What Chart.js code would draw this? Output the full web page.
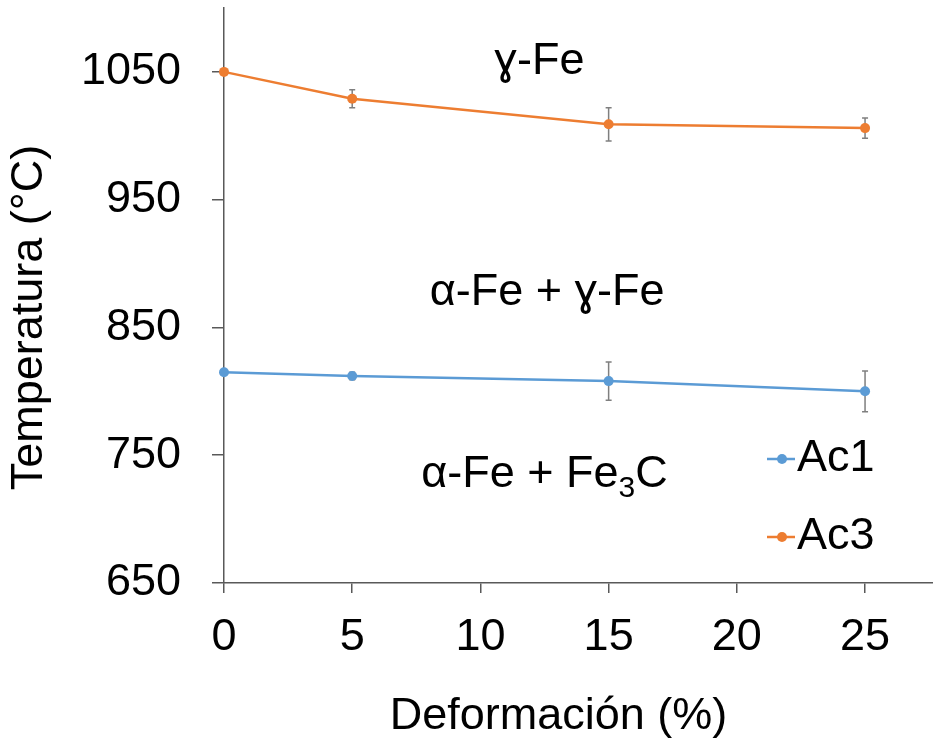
<!DOCTYPE html>
<html>
<head>
<meta charset="utf-8">
<script src="https://cdn.jsdelivr.net/npm/chart.js@4"></script>
<style>
  html, body { margin: 0; padding: 0; background: #fff; }
  #wrap { width: 933px; height: 742px; }
</style>
</head>
<body>
<div id="wrap"><canvas id="tempChart" width="933" height="742"></canvas></div>
<script>
// Data
const deformation = [0, 5, 15, 25];
const ac1Values = [815, 812, 808, 800];
const ac1Errors = [0, 3, 15, 16];
const ac3Values = [1050, 1029, 1009, 1006];
const ac3Errors = [0, 7, 13, 8];
const xTickValues = [0, 5, 10, 15, 20, 25];
const yTickValues = [650, 750, 850, 950, 1050];

// Phase region labels (placed in data units)
const phaseLabels = [
    { x: 12.3, y: 1058, parts: [['ɣ-Fe', false]] },
    { x: 12.6, y: 877, parts: [['α-Fe + ɣ-Fe', false]] },
    { x: 12.5, y: 735, parts: [['α-Fe + Fe', false], ['3', true], ['C', false]] }
];

const FONT = '"Liberation Sans", Arial, sans-serif';
const AXIS_COLOR = '#595959';
const BLUE = '#5B9BD5';
const ORANGE = '#ED7D31';

function toPoints(xs, ys) {
    return xs.map((x, i) => ({ x: x, y: ys[i] }));
}

// Error bars drawn under the markers
const errorBarPlugin = {
    id: 'errorBars',
    beforeDatasetsDraw(chart) {
        const { ctx, scales: { x, y } } = chart;
        const sets = [[ac1Values, ac1Errors], [ac3Values, ac3Errors]];
        ctx.save();
        ctx.strokeStyle = '#7F7F7F';
        ctx.lineWidth = 1.5;
        sets.forEach(([vals, errs]) => {
            deformation.forEach((d, i) => {
                if (!errs[i]) return;
                const px = x.getPixelForValue(d);
                const top = y.getPixelForValue(vals[i] + errs[i]);
                const bot = y.getPixelForValue(vals[i] - errs[i]);
                ctx.beginPath();
                ctx.moveTo(px, top); ctx.lineTo(px, bot);
                ctx.moveTo(px - 3, top); ctx.lineTo(px + 3, top);
                ctx.moveTo(px - 3, bot); ctx.lineTo(px + 3, bot);
                ctx.stroke();
            });
        });
        ctx.restore();
    }
};

// Phase names, axis titles and the legend
const annotationPlugin = {
    id: 'phaseText',
    afterDatasetsDraw(chart) {
        const { ctx, chartArea, scales: { x, y } } = chart;
        ctx.save();
        ctx.fillStyle = '#000';
        ctx.textBaseline = 'middle';
        ctx.textAlign = 'left';
        phaseLabels.forEach(lbl => {
            const big = '45px ' + FONT;
            const small = '30px ' + FONT;
            let total = 0;
            lbl.parts.forEach(([t, sub]) => {
                ctx.font = sub ? small : big;
                total += ctx.measureText(t).width;
            });
            let cx = x.getPixelForValue(lbl.x) - total / 2;
            const cy = y.getPixelForValue(lbl.y);
            lbl.parts.forEach(([t, sub]) => {
                ctx.font = sub ? small : big;
                ctx.fillText(t, cx, sub ? cy + 14 : cy);
                cx += ctx.measureText(t).width;
            });
        });

        ctx.font = '45px ' + FONT;

        // x axis title, a bit left of the plot centre
        ctx.textAlign = 'center';
        ctx.fillText('Deformación (%)', (chartArea.left + chartArea.right) / 2 - 20, 717);

        // y axis title, sitting a little below the middle of the plot
        ctx.save();
        ctx.translate(30, (chartArea.top + chartArea.bottom) / 2 + 22);
        ctx.rotate(-Math.PI / 2);
        ctx.fillText('Temperatura (°C)', 0, 0);
        ctx.restore();

        // legend
        ctx.textAlign = 'left';
        const entries = chart.data.datasets.map(ds => [ds.label, ds.borderColor]);
        const lx = 767, ly = [459, 537];
        entries.forEach(([label, color], i) => {
            ctx.strokeStyle = color;
            ctx.lineWidth = 2.5;
            ctx.beginPath();
            ctx.moveTo(lx, ly[i]); ctx.lineTo(lx + 28, ly[i]);
            ctx.stroke();
            ctx.fillStyle = color;
            ctx.beginPath();
            ctx.arc(lx + 15, ly[i], 5, 0, Math.PI * 2);
            ctx.fill();
            ctx.fillStyle = '#000';
            ctx.fillText(label, lx + 30, ly[i]);
        });
        ctx.restore();
    }
};

const ctx = document.getElementById('tempChart').getContext('2d');
const chart = new Chart(ctx, {
    type: 'line',
    data: {
        datasets: [{
            label: 'Ac1',
            data: toPoints(deformation, ac1Values),
            borderColor: BLUE,
            backgroundColor: BLUE,
            borderWidth: 2.5,
            pointRadius: 5,
            pointBorderWidth: 0,
            tension: 0
        }, {
            label: 'Ac3',
            data: toPoints(deformation, ac3Values),
            borderColor: ORANGE,
            backgroundColor: ORANGE,
            borderWidth: 2.5,
            pointRadius: 5,
            pointBorderWidth: 0,
            tension: 0
        }]
    },
    options: {
        responsive: false,
        animation: false,
        clip: false,
        layout: { autoPadding: false, padding: { top: 8, right: 0, left: 0, bottom: 0 } },
        scales: {
            x: {
                type: 'linear',
                min: 0,
                max: 27.65,
                afterBuildTicks: scale => { scale.ticks = xTickValues.map(v => ({ value: v })); },
                afterFit: scale => {
                    scale.height = 159;
                    scale.paddingLeft = 0;
                    scale.paddingRight = 0;
                },
                grid: { drawOnChartArea: false, drawTicks: true, tickLength: 10, color: AXIS_COLOR, lineWidth: 1.5 },
                border: { display: true, color: AXIS_COLOR, width: 1.5 },
                ticks: {
                    color: '#000',
                    padding: 18,
                    maxRotation: 0,
                    callback: v => String(v),
                    font: { family: FONT, size: 45 }
                },
                title: { display: false }
            },
            y: {
                min: 650,
                max: 1100,
                afterBuildTicks: scale => { scale.ticks = yTickValues.map(v => ({ value: v })); },
                afterFit: scale => {
                    scale.width = 224;
                    scale.paddingTop = 0;
                    scale.paddingBottom = 0;
                },
                grid: { drawOnChartArea: false, drawTicks: true, tickLength: 12, color: AXIS_COLOR, lineWidth: 1.5 },
                border: { display: true, color: AXIS_COLOR, width: 1.5 },
                ticks: {
                    color: '#000',
                    padding: 31,
                    callback: v => String(v),
                    font: { family: FONT, size: 45 }
                },
                title: { display: false }
            }
        },
        plugins: {
            legend: { display: false },
            tooltip: { enabled: false }
        }
    },
    plugins: [errorBarPlugin, annotationPlugin]
});
</script>
</body>
</html>
